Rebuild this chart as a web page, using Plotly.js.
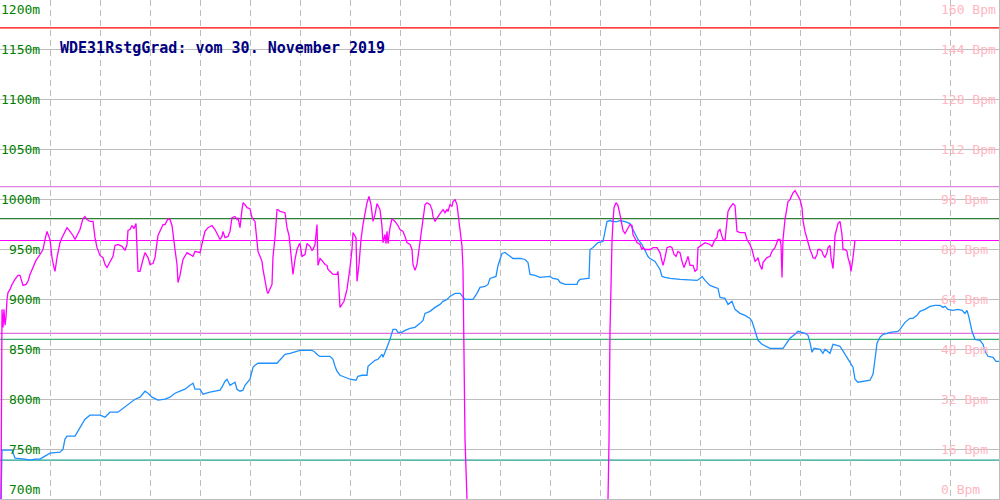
<!DOCTYPE html>
<html>
<head>
<meta charset="utf-8">
<script src="https://cdn.plot.ly/plotly-3.0.1.min.js"></script>
<style>html,body{margin:0;padding:0;background:#fff;}#chart{width:1000px;height:500px;}</style>
</head>
<body>
<div id="chart"></div>
<script>
// Altitude (m, left axis) – sample position and value
var altTime = [1,2,12,15,25,30,35,40,45,50,60,63,65,67,75,78,80,85,90,100,105,110,118,125,130,135,140,145,148,152,158,165,170,175,180,185,190,193,195,200,203,210,220,222,225,227,230,233,235,237,240,243,245,250,253,255,258,277,283,285,290,298,300,312,315,318,320,330,333,335,337,340,345,350,356,358,362,367,368,372,375,378,380,382,383,385,387,390,392,393,396,398,402,405,410,415,420,423,425,430,435,440,443,447,450,455,460,463,465,473,477,480,485,488,490,496,498,500,502,505,510,513,520,525,528,530,535,540,550,553,558,560,565,577,578,580,588,589,590,593,596,598,603,605,607,610,613,617,620,625,630,632,635,638,642,645,648,650,655,660,662,665,670,680,690,697,700,702,705,710,715,718,720,725,728,732,735,740,745,750,752,755,758,762,770,783,786,790,795,798,805,808,810,812,814,820,823,825,830,833,837,840,842,845,847,850,853,855,858,870,873,875,877,880,883,887,890,898,900,905,910,913,917,920,925,930,935,940,943,945,948,953,958,962,965,967,969,972,975,980,983,985,988,993,996,1000];
var altitude = [700,749,749,741,740,739,740,740,743,746,747,750,760,763,763,768,772,780,784,784,782,787,787,792,796,800,802,808,806,802,799,800,802,806,808,810,814,816,810,810,805,807,809,812,818,820,814,816,817,810,808,809,814,820,832,834,836,836,842,845,846,848,849,849,847,844,843,843,840,833,828,824,822,820,819,823,824,824,833,837,839,840,843,845,842,848,852,860,867,870,870,867,867,869,871,872,876,879,886,888,892,895,898,900,903,906,906,902,900,900,906,912,913,915,921,923,934,940,946,947,943,941,941,940,937,925,924,922,923,921,920,917,915,915,918,920,921,921,950,952,955,957,958,968,978,979,978,978,979,978,976,972,966,960,955,949,943,941,938,930,923,922,921,920,919,919,921,923,919,914,912,911,902,901,895,898,890,886,884,881,878,869,859,855,851,851,855,861,865,868,866,864,857,847,851,850,846,850,846,855,854,853,850,845,843,838,832,820,817,819,825,840,856,862,865,866,867,868,870,877,881,881,884,888,890,893,894,894,892,893,890,889,890,889,886,889,882,868,860,859,855,848,843,842,838,838];

// Heart rate (Bpm, right axis)
var hrTime = [1,2,3,4,5,6,7,8,10,12,15,18,20,22,23,26,28,30,33,36,40,43,45,47,50,52,54,55,57,60,62,65,67,70,73,75,77,80,83,85,87,90,93,95,97,100,103,105,107,110,113,115,118,122,125,127,128,130,132,134,136,138,140,143,145,148,150,153,155,158,160,163,165,168,170,172,175,177,178,180,182,183,187,190,193,195,200,203,205,208,212,215,218,220,222,223,225,228,230,232,235,237,238,240,242,243,245,247,250,252,255,257,258,260,262,263,265,267,268,270,272,273,275,277,278,280,285,287,289,290,292,293,295,297,299,300,302,305,307,310,312,313,315,317,318,320,322,325,327,328,330,333,337,338,340,342,344,347,349,350,352,353,356,357,359,361,363,365,367,369,371,373,375,377,380,382,383,385,386,387,388,390,392,395,398,400,403,405,407,410,412,413,415,417,419,420,422,424,425,427,430,432,433,435,437,440,443,445,447,448,450,452,453,455,457,459,460,462,463,464,465,467,537,608,609,610,611,612,613,614,616,618,620,622,623,625,627,630,632,633,635,637,640,642,643,645,650,653,657,660,662,663,665,667,670,672,674,676,678,680,682,684,687,688,690,693,695,697,698,700,702,705,710,712,715,717,718,720,722,723,725,727,728,730,732,733,735,737,740,745,747,750,752,755,757,758,760,762,763,765,767,770,772,775,777,778,780,781,782,783,785,787,788,790,792,793,795,797,800,802,803,805,807,810,812,813,815,817,818,820,822,823,825,827,828,830,831,833,834,835,837,838,840,842,843,845,847,848,850,851,853,854,855];
var heartRate = [0,60.8,55.0,60.8,55.7,58.2,64.0,66.2,67.2,68.8,70.4,71.7,71.7,69.4,68.5,68.8,69.8,72.0,74.2,76.5,78.4,80.0,83.2,85.8,83.2,77.4,74.2,73.0,77.4,82.2,83.8,85.8,87.0,85.8,84.5,83.2,84.5,86.4,89.9,90.6,89.6,89.0,89.0,83.8,80.6,78.1,77.4,75.2,74.2,75.8,77.8,81.3,81.6,81.0,79.7,81.6,86.1,86.4,87.7,86.7,88.3,73.0,73.0,76.8,79.0,77.4,75.2,75.5,77.4,84.5,86.1,88.0,88.0,89.9,89.6,87.7,80.0,75.2,69.4,71.7,75.2,76.8,79.0,78.4,77.8,79.4,79.0,83.2,85.8,87.0,87.7,86.4,84.2,83.2,84.2,85.8,83.8,84.2,85.8,90.2,90.6,89.6,90.2,87.0,92.8,95.0,94.4,93.4,93.1,90.2,89.0,82.9,79.4,77.8,76.2,73.6,69.8,66.6,65.9,67.2,68.8,77.8,83.8,92.8,92.8,92.2,91.8,87.0,84.5,81.6,74.2,72.0,76.8,80.0,81.6,81.9,77.8,78.4,81.9,81.0,79.7,80.0,81.6,88.0,74.9,77.1,76.5,75.2,74.9,73.6,73.0,72.0,72.0,73.0,61.4,62.4,63.4,67.2,71.0,74.2,80.0,85.4,83.8,69.8,75.2,83.2,88.0,92.2,95.0,97.0,94.4,89.0,91.2,94.7,92.8,87.4,82.2,84.8,81.9,85.8,81.9,87.0,89.9,89.0,87.7,86.4,85.8,84.2,82.2,81.6,80.0,75.2,73.3,75.2,80.0,83.2,87.4,92.8,94.4,95.0,94.4,92.8,90.6,89.0,90.2,91.5,92.8,91.8,92.8,92.2,94.4,93.8,95.4,96.0,94.4,89.6,86.4,81.0,73.6,53.1,19.2,0,null,0,18.2,53.8,74.2,82.6,89.0,93.4,95.0,94.1,91.2,88.0,86.1,85.1,86.4,88.0,87.7,84.8,83.5,82.2,81.6,80.0,80.6,80.0,80.0,80.6,80.6,79.0,76.2,74.9,77.4,80.6,81.0,80.6,78.4,77.8,79.4,79.0,76.2,74.2,76.8,77.8,74.9,74.9,73.0,73.6,80.6,81.0,81.6,82.2,81.6,81.0,83.2,83.8,85.8,86.4,84.2,83.2,82.9,89.6,92.2,93.4,94.4,94.7,94.1,85.8,85.4,85.4,83.2,81.6,80.0,76.2,76.8,77.4,74.9,73.6,75.8,76.8,77.4,77.8,79.4,80.6,82.2,83.2,83.2,81.6,71.0,83.2,89.6,92.8,95.4,96.0,97.3,98.2,98.9,97.6,96.0,93.4,89.3,85.8,83.2,80.0,78.4,77.4,77.1,78.4,80.0,80.0,79.4,78.4,77.4,79.0,80.6,81.3,77.4,73.9,78.4,84.5,87.0,88.3,89.0,84.8,80.0,80.0,79.4,77.4,75.2,73.0,77.4,81.6,82.9];

// Axis ticks
var altTicks = [700,750,800,850,900,950,1000,1050,1100,1150,1200];
var altTickText = ['700m','750m','800m','850m','900m','950m','1000m','1050m','1100m','1150m','1200m'];
var bpmTicks = [0,16,32,48,64,80,96,112,128,144,160];
var bpmTickText = ['0 Bpm','16 Bpm','32 Bpm','48 Bpm','64 Bpm','80 Bpm','96 Bpm','112 Bpm','128 Bpm','144 Bpm','160 Bpm'];

// Horizontal reference levels (in m on the left axis)
var refLevels = [1172, 1013, 981, 959, 866, 860, 739];
var refColors = ['#ff0000', '#e080e0', '#2e7d32', '#ff00ff', '#e070e0', '#3cb371', '#20a090'];

var titleText = 'WDE31RstgGrad: vom 30. November 2019';

var W = 999, H = 499;
var mono = 'DejaVu Sans Mono, monospace';

var traces = [
  {x: altTime, y: altitude, type: 'scatter', mode: 'lines', yaxis: 'y',
   line: {color: '#1e90ff', width: 1.3}, hoverinfo: 'skip'},
  {x: hrTime, y: heartRate, type: 'scatter', mode: 'lines', yaxis: 'y2', connectgaps: false,
   line: {color: '#ff00ff', width: 1.3}, hoverinfo: 'skip'}
];

var shapes = refLevels.map(function (v, i) {
  return {type: 'line', xref: 'paper', yref: 'y', x0: 0, x1: 1, y0: v, y1: v,
          layer: 'between', line: {color: refColors[i], width: 1.2}};
});

var annotations = [];
altTicks.forEach(function (v, i) {
  annotations.push({xref: 'paper', yref: 'y', x: 42 / W, y: v, text: altTickText[i],
    showarrow: false, xanchor: 'right',
    yanchor: i === 0 ? 'bottom' : (i === altTicks.length - 1 ? 'top' : 'middle'),
    font: {family: mono, size: 13, color: '#008000'}});
});
bpmTicks.forEach(function (v, i) {
  annotations.push({xref: 'paper', yref: 'y2', x: 939 / W, y: v, text: bpmTickText[i],
    showarrow: false, xanchor: 'left',
    yanchor: i === 0 ? 'bottom' : (i === bpmTicks.length - 1 ? 'top' : 'middle'),
    font: {family: mono, size: 13, color: '#ffb6c1'}});
});
annotations.push({xref: 'paper', yref: 'paper', x: 58 / W, y: 1 - 48 / H, text: titleText,
  showarrow: false, xanchor: 'left', yanchor: 'middle',
  font: {family: mono, size: 15, color: '#000080', weight: 700}});

var layout = {
  width: 1000, height: 500,
  margin: {l: 0, r: 1, t: 0, b: 1, pad: 0},
  paper_bgcolor: '#ffffff', plot_bgcolor: '#ffffff',
  showlegend: false,
  xaxis: {range: [0, 999], dtick: 50, tick0: 0, showgrid: true, gridcolor: '#bdbdbd', gridwidth: 1,
          griddash: '6px,4px', zeroline: false, showticklabels: false, ticks: '',
          showline: true, mirror: true, linecolor: '#bdbdbd', linewidth: 1, fixedrange: true},
  yaxis: {range: [700, 1200], tickvals: altTicks, showgrid: true, gridcolor: '#bdbdbd', gridwidth: 1,
          zeroline: false, showticklabels: false, ticks: '',
          showline: true, mirror: true, linecolor: '#bdbdbd', linewidth: 1, fixedrange: true},
  yaxis2: {range: [0, 160], overlaying: 'y', side: 'right', showgrid: false, zeroline: false,
           showticklabels: false, ticks: '', showline: false, fixedrange: true},
  shapes: shapes,
  annotations: annotations
};

Plotly.newPlot('chart', traces, layout, {displayModeBar: false, staticPlot: true});
</script>
</body>
</html>
